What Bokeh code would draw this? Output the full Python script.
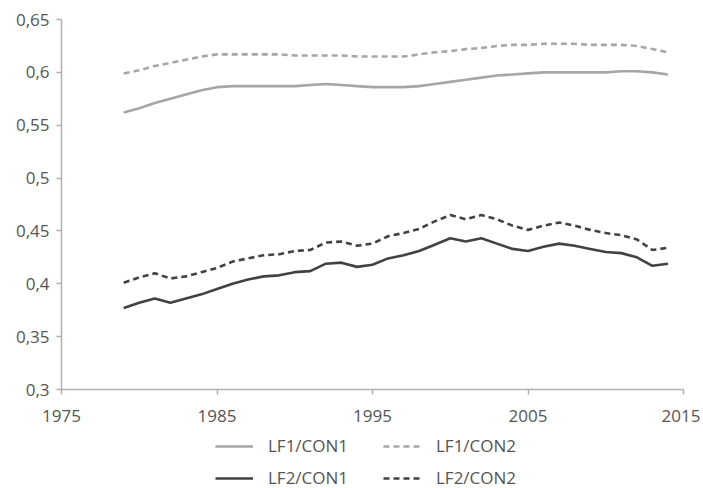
from bokeh.plotting import figure
from bokeh.layouts import column
from bokeh.models import Legend, LegendItem, FixedTicker, ColumnDataSource
from bokeh.embed import file_html
from bokeh.resources import INLINE

years = list(range(1979, 2015))
lf1_con1 = [0.562, 0.566, 0.571, 0.575, 0.579, 0.583, 0.586, 0.587, 0.587, 0.587, 0.587, 0.587,
            0.588, 0.589, 0.588, 0.587, 0.586, 0.586, 0.586, 0.587, 0.589, 0.591, 0.593, 0.595,
            0.597, 0.598, 0.599, 0.600, 0.600, 0.600, 0.600, 0.600, 0.601, 0.601, 0.600, 0.598]
lf1_con2 = [0.599, 0.602, 0.606, 0.609, 0.612, 0.615, 0.617, 0.617, 0.617, 0.617, 0.617, 0.616,
            0.616, 0.616, 0.616, 0.615, 0.615, 0.615, 0.615, 0.617, 0.619, 0.620, 0.622, 0.623,
            0.625, 0.626, 0.626, 0.627, 0.627, 0.627, 0.626, 0.626, 0.626, 0.625, 0.622, 0.619]
lf2_con1 = [0.377, 0.382, 0.386, 0.382, 0.386, 0.390, 0.395, 0.400, 0.404, 0.407, 0.408, 0.411,
            0.412, 0.419, 0.420, 0.416, 0.418, 0.424, 0.427, 0.431, 0.437, 0.443, 0.440, 0.443,
            0.438, 0.433, 0.431, 0.435, 0.438, 0.436, 0.433, 0.430, 0.429, 0.425, 0.417, 0.419]
lf2_con2 = [0.401, 0.406, 0.410, 0.405, 0.407, 0.411, 0.415, 0.421, 0.424, 0.427, 0.428, 0.431,
            0.432, 0.439, 0.440, 0.436, 0.438, 0.445, 0.448, 0.452, 0.459, 0.465, 0.461, 0.465,
            0.461, 0.455, 0.451, 0.455, 0.458, 0.455, 0.451, 0.448, 0.446, 0.442, 0.432, 0.434]

series_labels = ["LF1/CON1", "LF1/CON2", "LF2/CON1", "LF2/CON2"]
x_ticks = [1975, 1985, 1995, 2005, 2015]
y_ticks = [0.3, 0.35, 0.4, 0.45, 0.5, 0.55, 0.6, 0.65]
y_tick_labels = ["0,3", "0,35", "0,4", "0,45", "0,5", "0,55", "0,6", "0,65"]

FONT = "Open Sans"
TEXT_COLOR = "#555555"
LIGHT = "#a6a6a6"
DARK = "#424242"
styles = [dict(line_color=LIGHT), dict(line_color=LIGHT, line_dash="6 4"),
          dict(line_color=DARK), dict(line_color=DARK, line_dash="6 4")]
cols = ["a", "b", "c", "d"]

p = figure(width=700, height=425, output_backend="svg", toolbar_location=None,
           x_range=(1975, 2015), y_range=(0.3, 0.65),
           min_border_left=61, min_border_right=17, min_border_top=19, min_border_bottom=36)
p.outline_line_color = None
p.xgrid.visible = False
p.ygrid.visible = False

src = ColumnDataSource(dict(x=years, a=lf1_con1, b=lf1_con2, c=lf2_con1, d=lf2_con2))
for col, st in zip(cols, styles):
    p.line("x", col, source=src, line_width=2.6, **st)

for ax in (p.xaxis[0], p.yaxis[0]):
    ax.axis_line_color = "#b0b0b0"
    ax.axis_line_width = 1.5
    ax.major_tick_line_color = "#b0b0b0"
    ax.major_tick_line_width = 1.5
    ax.major_tick_out = 5
    ax.major_tick_in = 0
    ax.minor_tick_line_color = None
    ax.major_label_text_font = FONT
    ax.major_label_text_font_size = "17px"
    ax.major_label_text_color = TEXT_COLOR

p.xaxis.ticker = FixedTicker(ticks=x_ticks)
p.yaxis.ticker = FixedTicker(ticks=y_ticks)
p.yaxis.major_label_overrides = {t: l for t, l in zip(y_ticks, y_tick_labels)}
p.xaxis.major_label_standoff = 15
p.yaxis.major_label_standoff = 7

# legend panel below the chart (its lines lie outside its own view, only the legend shows)
lg = figure(width=700, height=63, output_backend="svg", toolbar_location=None,
            x_axis_type=None, y_axis_type=None, x_range=(0, 1), y_range=(0, 1),
            min_border_left=0, min_border_right=0, min_border_top=0, min_border_bottom=0)
lg.outline_line_color = None
lg.xgrid.visible = False
lg.ygrid.visible = False
rs = [lg.line("x", col, source=src, line_width=2.6, **st) for col, st in zip(cols, styles)]

legend = Legend(items=[
    LegendItem(label=series_labels[0], renderers=[rs[0]]),
    LegendItem(label=series_labels[2], renderers=[rs[2]]),
    LegendItem(label=series_labels[1], renderers=[rs[1]]),
    LegendItem(label=series_labels[3], renderers=[rs[3]]),
], ncols=2, location=(154, -1))
legend.label_text_font = FONT
legend.label_text_font_size = "17px"
legend.label_text_color = TEXT_COLOR
legend.glyph_width = 38
legend.glyph_height = 14
legend.label_height = 14
legend.label_width = 106
legend.spacing = 9
legend.label_standoff = 15
legend.border_line_color = None
legend.background_fill_alpha = 0
legend.margin = 0
legend.padding = 0
lg.add_layout(legend)

layout = column(p, lg, spacing=0)
open("out.html", "w").write(file_html(layout, INLINE))
